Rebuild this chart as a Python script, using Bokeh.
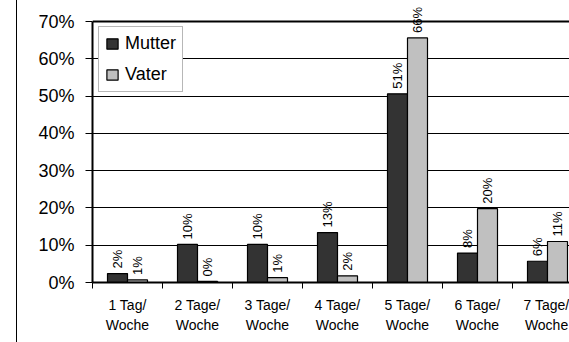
import math
from bokeh.plotting import figure
from bokeh.models import (ColumnDataSource, Range1d, FixedTicker, PrintfTickFormatter,
                          Legend, LegendItem, LabelSet, Span, InlineStyleSheet)
from bokeh.core.properties import value
from bokeh.embed import file_html
from bokeh.resources import INLINE

categories = ["1 Tag/\nWoche", "2 Tage/\nWoche", "3 Tage/\nWoche", "4 Tage/\nWoche",
              "5 Tage/\nWoche", "6 Tage/\nWoche", "7 Tage/\nWoche"]
mutter = [2.4, 10.2, 10.2, 13.4, 50.6, 7.9, 5.7]
vater = [0.7, 0.3, 1.3, 1.8, 65.6, 19.8, 11.0]
y_ticks = [0, 10, 20, 30, 40, 50, 60, 70]

FONT = "Liberation Sans"
n = len(categories)
centers = [i + 0.5 for i in range(n)]
bw = 20 / 70
y_max = 70
y_top = y_max * 282 / 261  # frame extends to canvas top so labels above 70% stay visible

src_m = ColumnDataSource(dict(x=[c - bw / 2 for c in centers], top=mutter,
                              lab=[f"{v:.0f}%" for v in mutter]))
src_v = ColumnDataSource(dict(x=[c + bw / 2 for c in centers], top=vater,
                              lab=[f"{v:.0f}%" for v in vater]))

p = figure(width=569, height=342, output_backend="svg", toolbar_location=None,
           x_range=Range1d(0, 477 / 70), y_range=Range1d(0, y_top),
           min_border_left=92, min_border_right=0, min_border_top=0, min_border_bottom=60)
p.outline_line_color = None
p.background_fill_color = "white"
p.border_fill_color = None
p.stylesheets = [InlineStyleSheet(css=":host { background: linear-gradient(#000, #000) 16px 0 / 1px 100% no-repeat, #ffffff; }")]

rm = p.vbar(x="x", top="top", width=bw, bottom=0, source=src_m,
            fill_color="#333333", line_color="black", line_width=1.2)
rv = p.vbar(x="x", top="top", width=bw, bottom=0, source=src_v,
            fill_color="#C0C0C0", line_color="black", line_width=1.2)

for src in (src_m, src_v):
    p.add_layout(LabelSet(x="x", y="top", text="lab", source=src, angle=math.pi / 2,
                          text_align="left", text_baseline="middle", x_offset=0, y_offset=5,
                          text_font=value(FONT), text_font_size="13px", text_color="black",
                          level="overlay"))

# x axis
xa = p.xaxis[0]
xa.ticker = FixedTicker(ticks=centers, minor_ticks=list(range(0, n)))
xa.major_label_overrides = {c: lab for c, lab in zip(centers, categories)}
xa.major_tick_out = 0
xa.major_tick_in = 0
xa.minor_tick_out = 6
xa.minor_tick_in = 0
xa.minor_tick_line_color = "black"
xa.axis_line_width = 2
xa.axis_line_color = "black"
xa.major_label_text_font = FONT
xa.major_label_text_font_size = "14px"
xa.major_label_text_color = "black"
xa.major_label_text_line_height = 1.3
xa.major_label_standoff = 8

# y axis
ya = p.yaxis[0]
ya.ticker = FixedTicker(ticks=y_ticks)
ya.bounds = (0, y_max)
ya.formatter = PrintfTickFormatter(format="%d%%")
ya.major_tick_out = 7
ya.major_tick_in = 0
ya.minor_tick_out = 0
ya.minor_tick_in = 0
ya.major_tick_line_color = "black"
ya.axis_line_width = 2
ya.axis_line_color = "black"
ya.major_label_text_font = FONT
ya.major_label_text_font_size = "18px"
ya.major_label_text_color = "black"
ya.major_label_standoff = 11

p.xgrid.visible = False
p.ygrid.ticker = FixedTicker(ticks=y_ticks[1:-1])
p.ygrid.grid_line_color = "black"
p.ygrid.grid_line_width = 1

p.add_layout(Span(location=y_max, dimension="width", line_color="black", line_width=2))

legend = Legend(items=[LegendItem(label="Mutter", renderers=[rm]),
                       LegendItem(label="Vater", renderers=[rv])],
                location=(6, 190), margin=0, padding=6, spacing=10,
                glyph_width=14, glyph_height=13, label_standoff=6, label_height=20,
                label_text_font=FONT, label_text_font_size="18px", label_text_color="black",
                border_line_color="#707070", border_line_width=1,
                background_fill_color="white", background_fill_alpha=1)
p.add_layout(legend)

open("out.html", "w").write(file_html(p, INLINE))
